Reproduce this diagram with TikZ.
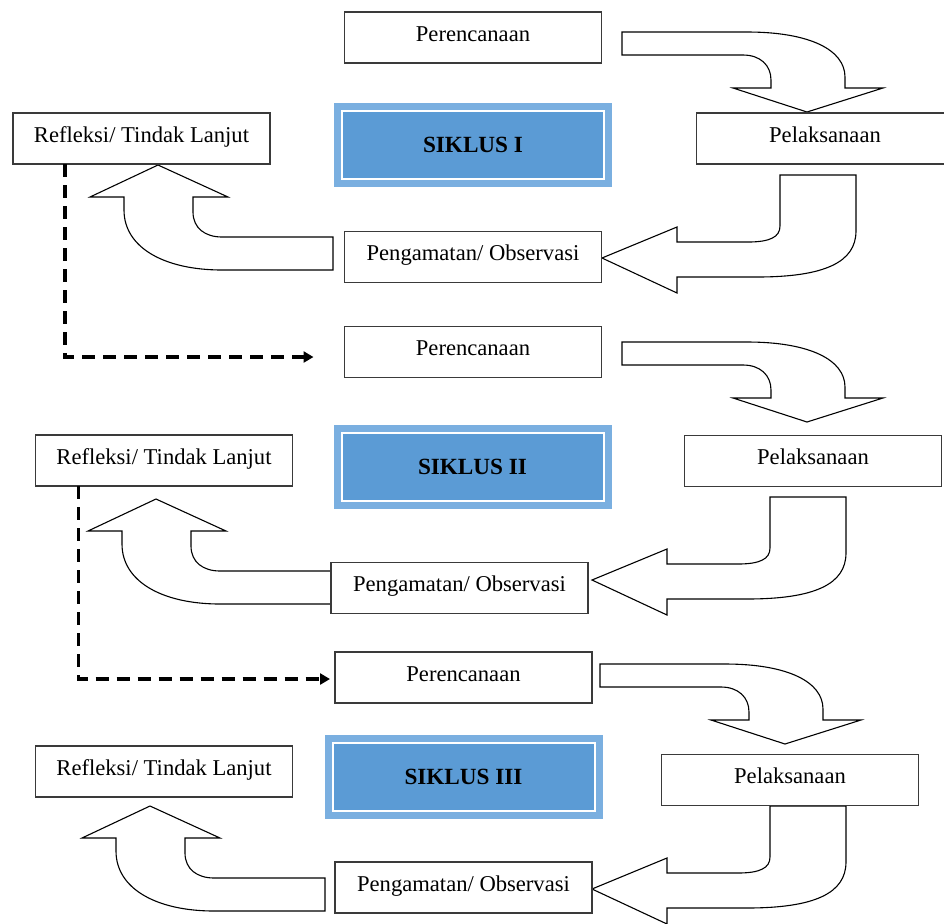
\documentclass[tikz,border=0pt]{standalone}
\usepackage{fontspec}
\setmainfont{Liberation Serif}
\usetikzlibrary{arrows.meta,calc}
\definecolor{sikfill}{HTML}{5B9BD5}
\definecolor{sikband}{HTML}{7AAFE0}
\definecolor{boxline}{HTML}{3A3A3A}
\begin{document}
\begin{tikzpicture}[x=0.5pt,y=-0.5pt,
  stagebox/.style={draw=boxline,line width=0.7pt,fill=white,minimum width=128.5pt,minimum height=25.5pt,
    inner sep=0pt,outer sep=0pt,font=\fontsize{11.3}{13}\selectfont,text height=10pt,text depth=6.5pt},
  sikbox/.style={fill=sikfill,draw=white,line width=1pt,preaction={draw=sikband,line width=8pt},
    minimum width=131pt,minimum height=34pt,inner sep=0pt,font=\bfseries\fontsize{11.6}{13}\selectfont},
  blockarrow/.style={draw=black,line width=0.55pt,fill=white,line join=miter},
  dashconn/.style={line width=1.6pt,dash pattern=on 6.5pt off 4pt,-{Triangle[length=5pt,width=5.5pt]}},
  arrowdown/.pic={\draw[blockarrow] (622,32) -- (747,32) .. controls (810,32) and (845,50) .. (845,77) -- (845,88)
     -- (883,88) -- (807,112) -- (733,88) -- (771,88) -- (771,80) .. controls (771,65) and (760,55) .. (743,55)
     -- (622,55) -- cycle;},
  arrowleft/.pic={\draw[blockarrow] (780,175) -- (780,226) .. controls (780,237) and (770,242) .. (748,242)
     -- (677,242) -- (677,227) -- (602,258) -- (677,293) -- (677,277) -- (757,277)
     .. controls (825,277) and (856,262) .. (856,231) -- (856,175) -- cycle;},
  arrowup/.pic={\draw[blockarrow] (333,237) -- (222,237) .. controls (205,237) and (193,228) .. (193,212)
     -- (193,197) -- (228,197) -- (158,165) -- (90,197) -- (124,197) -- (124,210)
     .. controls (124,248) and (165,270) .. (222,270) -- (333,270) -- cycle;}
]
\path[use as bounding box] (0,0) rectangle (944,923);
\clip (0,0) rectangle (944,923);

% block arrows
\pic at (0,0) {arrowdown};
\pic at (0,310) {arrowdown};
\pic at (-22,632) {arrowdown};
\pic at (0,0) {arrowleft};
\pic at (-10,322) {arrowleft};
\pic at (-10,631) {arrowleft};
\pic at (0,0) {arrowup};
\pic at (-2,334) {arrowup};
\pic at (-8,641) {arrowup};

% stage boxes
\node[stagebox] (P1) at (473,37.5) {Perencanaan};
\node[stagebox] (R1) at (141.5,138.5) {Refleksi/ Tindak Lanjut};
\node[stagebox] (L1) at (825,138.5) {Pelaksanaan};
\node[stagebox] (O1) at (473,257) {Pengamatan/ Observasi};
\node[stagebox] (P2) at (473,352) {Perencanaan};
\node[stagebox] (R2) at (164,460.5) {Refleksi/ Tindak Lanjut};
\node[stagebox] (L2) at (813,461) {Pelaksanaan};
\node[stagebox] (O2) at (459.5,588) {Pengamatan/ Observasi};
\node[stagebox] (P3) at (463.5,677.5) {Perencanaan};
\node[stagebox] (R3) at (164,771.5) {Refleksi/ Tindak Lanjut};
\node[stagebox] (L3) at (790,780) {Pelaksanaan};
\node[stagebox] (O3) at (463.5,887.5) {Pengamatan/ Observasi};

% cycle titles
\node[sikbox] (S1) at (473,144.5) {SIKLUS I};
\node[sikbox] (S2) at (472.5,466.5) {SIKLUS II};
\node[sikbox] (S3) at (463.5,777) {SIKLUS III};

% dashed transitions
\draw[dashconn] ([xshift=26pt]R1.south west) |- ([xshift=-15.5pt,yshift=-2.5pt]P2.west);
\draw[dashconn] ([xshift=21.5pt]R2.south west) |- ([xshift=-2.5pt,yshift=-0.75pt]P3.west);
\end{tikzpicture}
\end{document}
